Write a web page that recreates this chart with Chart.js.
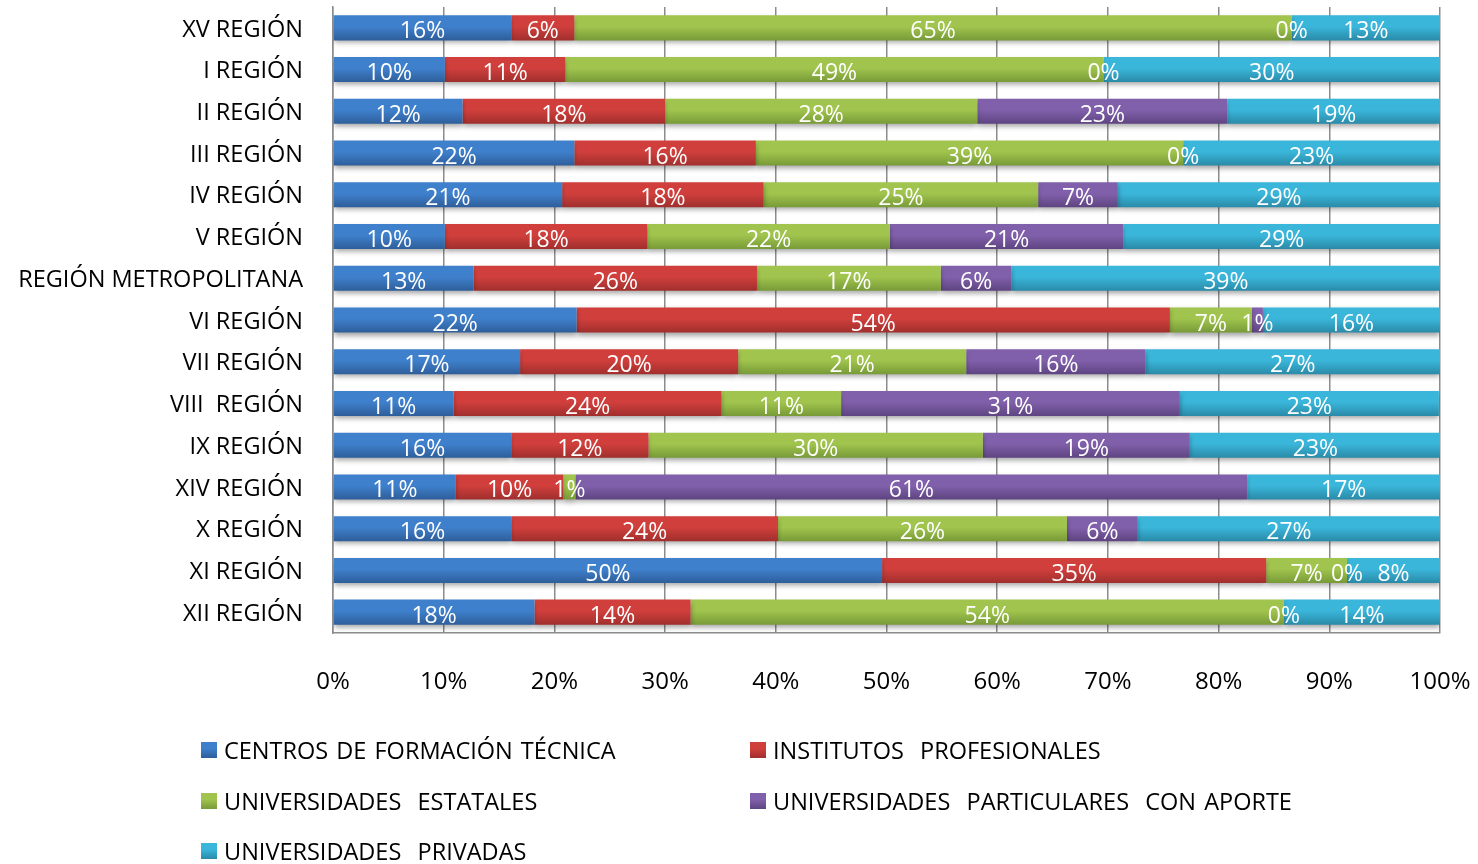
<!DOCTYPE html>
<html>
<head>
<meta charset="utf-8">
<script src="https://cdn.jsdelivr.net/npm/chart.js@4"></script>
<style>
  body { margin: 0; background: #fff; }
  #wrap { position: relative; width: 1478px; height: 864px; overflow: hidden; }
  #chart { position: absolute; left: 0; top: 0; }
  .leg { position: absolute; font-family: 'Open Sans', sans-serif; font-size: 23.5px; color: #000; white-space: pre; word-spacing: 2px; line-height: 26px; }
  .leg i { position: absolute; left: -23px; top: 5px; width: 16px; height: 16px; }
</style>
</head>
<body>
<div id="wrap">
  <canvas id="chart" width="1478" height="864"></canvas>
  <div id="legend"></div>
</div>
<script>
const regions = ['XV REGIÓN', 'I REGIÓN', 'II REGIÓN', 'III REGIÓN', 'IV REGIÓN', 'V REGIÓN',
  'REGIÓN METROPOLITANA', 'VI REGIÓN', 'VII REGIÓN', 'VIII  REGIÓN', 'IX REGIÓN', 'XIV REGIÓN',
  'X REGIÓN', 'XI REGIÓN', 'XII REGIÓN'];

const seriesNames = ['CENTROS DE FORMACIÓN TÉCNICA', 'INSTITUTOS  PROFESIONALES', 'UNIVERSIDADES  ESTATALES',
  'UNIVERSIDADES  PARTICULARES  CON APORTE', 'UNIVERSIDADES  PRIVADAS'];

const cft      = [16.1, 10.1, 11.7, 21.8, 20.7, 10.1, 12.7, 22.0, 16.9, 10.9, 16.1, 11.1, 16.1, 49.6, 18.2];
const ip       = [5.7, 10.9, 18.3, 16.4, 18.2, 18.3, 25.6, 53.6, 19.7, 24.2, 12.4, 9.7, 24.1, 34.7, 14.1];
const estatal  = [64.8, 48.6, 28.2, 38.6, 24.8, 21.9, 16.6, 7.4, 20.6, 10.8, 30.2, 1.1, 26.1, 7.3, 53.6];
const aporte   = [0, 0, 22.6, 0, 7.2, 21.1, 6.4, 1.0, 16.2, 30.6, 18.7, 60.7, 6.4, 0, 0];
const privadas = [13.4, 30.4, 19.2, 23.2, 29.1, 28.6, 38.7, 16.0, 26.6, 23.4, 22.7, 17.4, 27.3, 8.4, 14.1];

const xTicks = [0, 10, 20, 30, 40, 50, 60, 70, 80, 90, 100];

// top / bottom colours of each bar gradient
const colorsTop = ['#3f80cc', '#d03f3c', '#a0c44d', '#8160ab', '#3ab6da'];
const colorsBot = ['#2e5e9a', '#a02f2d', '#789a38', '#5e4481', '#2a8aa8'];

const BAR_H = 25;

function barGradient(i) {
    return (ctx) => {
        const chart = ctx.chart;
        const yScale = chart.scales.y;
        if (!yScale || ctx.dataIndex === undefined) return colorsTop[i];
        const cy = yScale.getPixelForValue(ctx.dataIndex);
        if (!isFinite(cy)) return colorsTop[i];
        const g = chart.ctx.createLinearGradient(0, cy - BAR_H / 2, 0, cy + BAR_H / 2);
        g.addColorStop(0, colorsTop[i]);
        g.addColorStop(0.45, colorsTop[i]);
        g.addColorStop(1, colorsBot[i]);
        return g;
    };
}

const allSeries = [cft, ip, estatal, aporte, privadas];

const shadowPlugin = {
    id: 'barShadow',
    beforeDatasetsDraw(chart) {
        const c = chart.ctx;
        c.save();
        c.shadowColor = 'rgba(0,0,0,0.35)';
        c.shadowBlur = 5;
        c.shadowOffsetY = 3;
    },
    afterDatasetsDraw(chart) {
        chart.ctx.restore();
    }
};

const labelPlugin = {
    id: 'segLabels',
    afterDatasetsDraw(chart) {
        const c = chart.ctx;
        c.save();
        c.font = "23px 'Open Sans'";
        c.fillStyle = '#fff';
        c.textAlign = 'center';
        c.textBaseline = 'middle';
        chart.data.datasets.forEach((ds, di) => {
            const meta = chart.getDatasetMeta(di);
            meta.data.forEach((el, i) => {
                const p = el.getProps(['x', 'y', 'base'], true);
                const cx = (p.x + p.base) / 2;
                c.fillText(Math.round(ds.data[i]) + '%', cx, p.y + 4);
            });
        });
        c.restore();
    }
};

const chart = new Chart(document.getElementById('chart').getContext('2d'), {
    type: 'bar',
    data: {
        labels: regions,
        datasets: seriesNames.map((name, i) => ({
            label: name,
            data: allSeries[i],
            backgroundColor: barGradient(i),
            borderWidth: 0,
            categoryPercentage: 1,
            barPercentage: 0.6
        }))
    },
    options: {
        indexAxis: 'y',
        responsive: false,
        animation: false,
        layout: { padding: { top: 7, left: 0, right: 38, bottom: 171 } },
        plugins: {
            legend: { display: false },
            tooltip: { enabled: false }
        },
        scales: {
            x: {
                stacked: true,
                min: 0,
                max: 100,
                afterFit: (scale) => {
                    scale.height = 60;
                    scale.paddingLeft = 0;
                    scale.paddingRight = 0;
                },
                afterBuildTicks: (scale) => { scale.ticks = xTicks.map(v => ({ value: v })); },
                grid: { color: '#8c8c8c', lineWidth: 1.5, drawTicks: false },
                border: { display: true, color: '#8c8c8c', width: 1.5 },
                ticks: {
                    padding: 35,
                    color: '#000',
                    font: { family: 'Open Sans', size: 24 },
                    callback: v => v + '%'
                }
            },
            y: {
                stacked: true,
                afterFit: (scale) => {
                    scale.width = 333;
                    scale.paddingTop = 0;
                    scale.paddingBottom = 0;
                },
                grid: { display: false, drawTicks: false },
                border: { display: true, color: '#8c8c8c', width: 1.5 },
                ticks: {
                    padding: 30,
                    labelOffset: 2,
                    color: '#000',
                    font: { family: 'Open Sans', size: 23.5 }
                }
            }
        }
    },
    plugins: [shadowPlugin, labelPlugin]
});
chart.update();

// legend in two columns, like the original
const legendPos = [[224, 737], [773, 737], [224, 788], [773, 788], [224, 838]];
const legend = document.getElementById('legend');
seriesNames.forEach((name, i) => {
    const d = document.createElement('div');
    d.className = 'leg';
    d.style.left = legendPos[i][0] + 'px';
    d.style.top = legendPos[i][1] + 'px';
    d.innerHTML = `<i style="background:linear-gradient(${colorsTop[i]} 40%, ${colorsBot[i]})"></i>${name}`;
    legend.appendChild(d);
});
</script>
</body>
</html>
